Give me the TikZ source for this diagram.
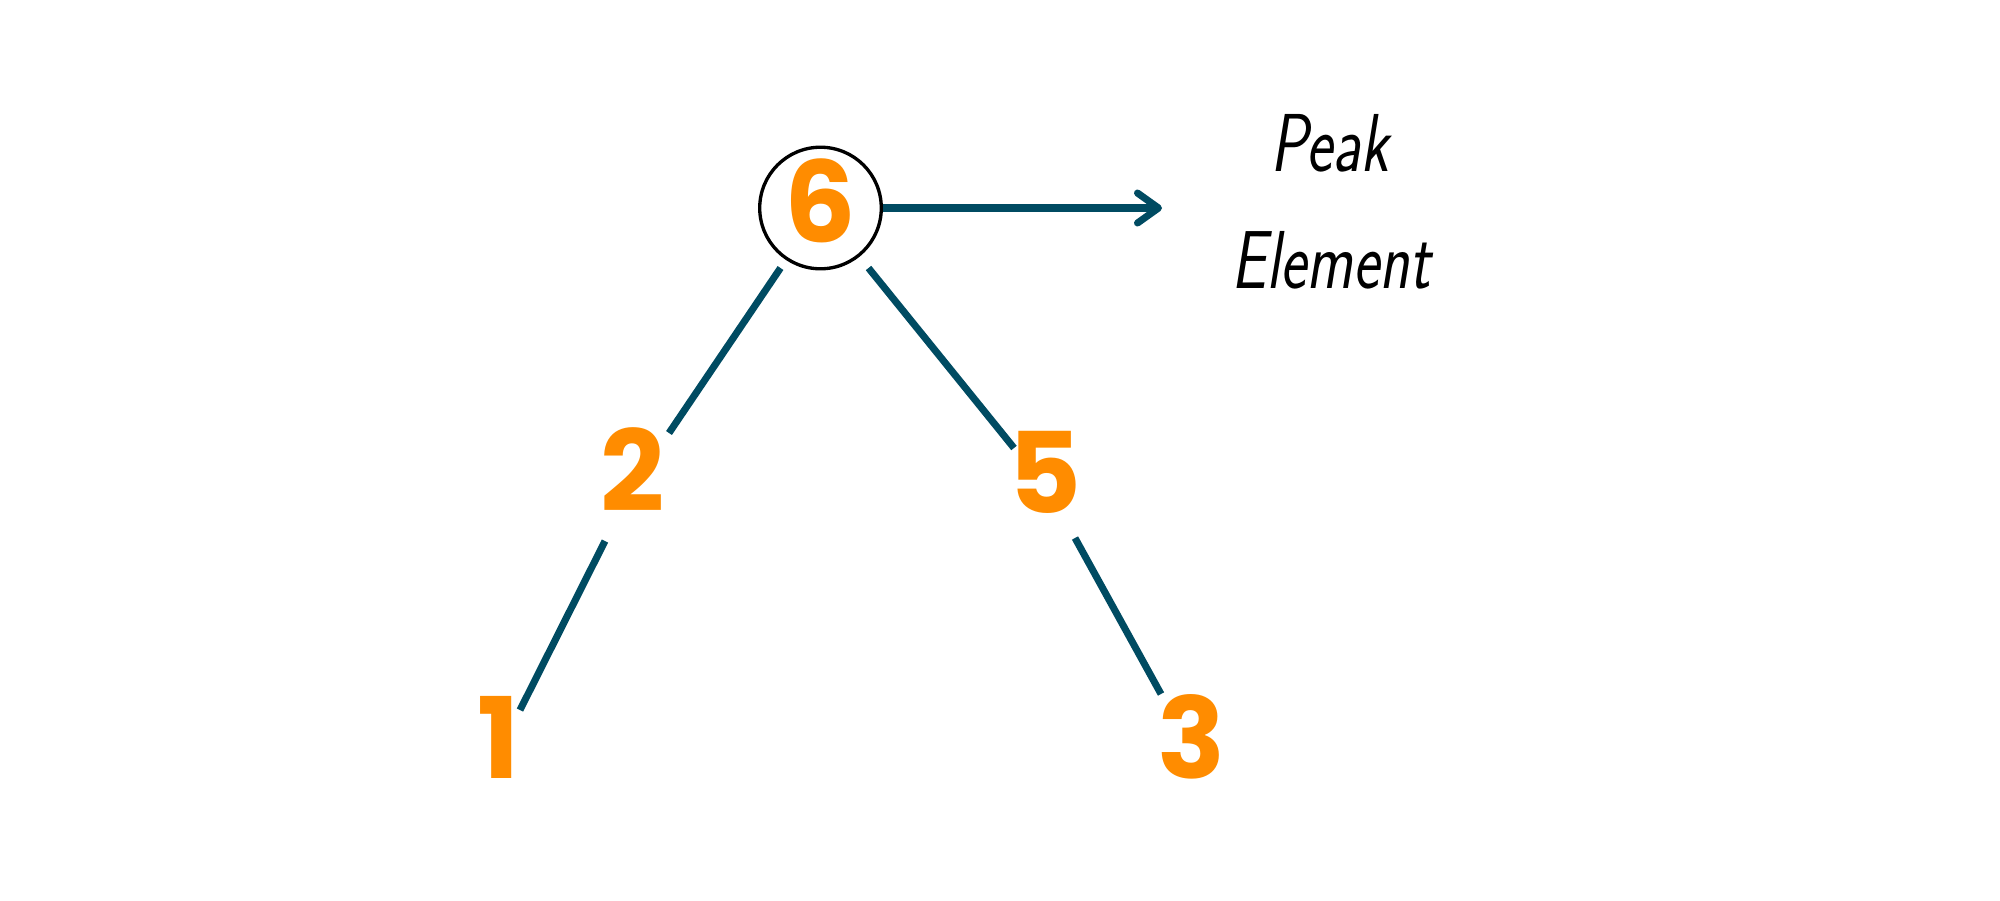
\documentclass[tikz,border=0pt]{standalone}
\usepackage{fontspec}
\usepackage{graphicx}
\usetikzlibrary{arrows.meta,calc}
\newfontfamily\numfont{Poppins}
\definecolor{numorange}{HTML}{FF8C00}
\definecolor{edgeteal}{HTML}{004B62}
\tikzset{
  numnode/.style={inner sep=0pt, text=numorange, font={\numfont\bfseries\fontsize{32}{32}\selectfont}},
  edgeline/.style={draw=edgeteal, line width=2pt},
  handtext/.style={inner sep=0pt, anchor=base, font={\sffamily\slshape\fontsize{23.4}{28}\selectfont}}
}
\begin{document}
\begin{tikzpicture}
\useasboundingbox (0,0) rectangle (20,-9);
\node[numnode, circle, draw=black, line width=0.95pt, minimum size=1.12cm, text depth=0.15cm] (n6) at (8.205,-2.08) {6};
\node[numnode] (n2) at (6.33,-4.70) {2};
\node[numnode] (n5) at (10.45,-4.72) {5};
\node[numnode] (n1) at (4.99,-7.37) {1};
\node[numnode] (n3) at (11.92,-7.37) {3};
\coordinate (tip) at (11.62,-2.08);
\node[handtext] (peak) at (13.30,-1.71) {\scalebox{0.76}[1]{Peak}};
\node[handtext] (elem) at (13.31,-2.88) {\scalebox{0.76}[1]{Element}};
\draw[edgeline] ([shift={(-0.40,-0.60)}]n6.center) -- ([shift={(0.36,0.37)}]n2.center);
\draw[edgeline] ([shift={(0.48,-0.60)}]n6.center) -- ([shift={(-0.31,0.24)}]n5.center);
\draw[edgeline] ([shift={(-0.28,-0.71)}]n2.center) -- ([shift={(0.21,0.27)}]n1.center);
\draw[edgeline] ([shift={(0.30,-0.66)}]n5.center) -- ([shift={(-0.31,0.43)}]n3.center);
\draw[edgeline, -{Straight Barb[length=0.21cm, width=0.30cm, round]}] (n6.east) -- (tip);
\end{tikzpicture}
\end{document}
